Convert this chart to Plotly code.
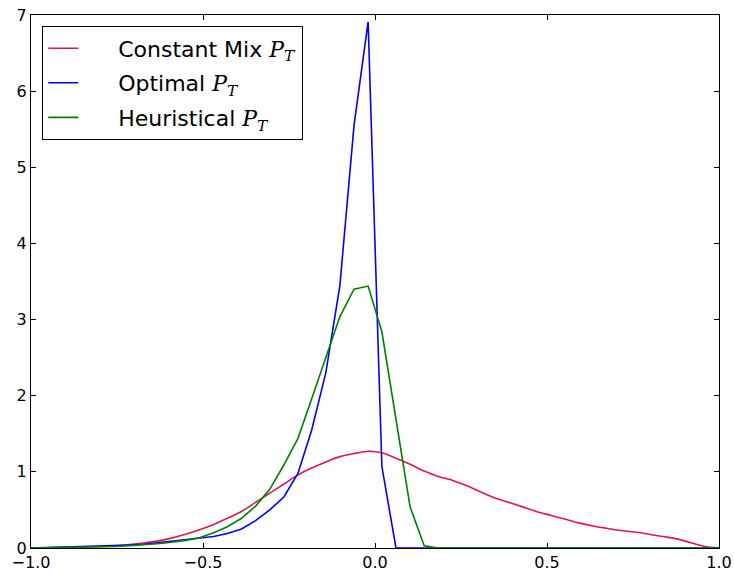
import plotly.graph_objects as go

x_grid = [-1.000, -0.959, -0.918, -0.878, -0.837, -0.796, -0.755, -0.714, -0.673, -0.633,
          -0.592, -0.551, -0.510, -0.469, -0.429, -0.388, -0.347, -0.306, -0.265, -0.224,
          -0.184, -0.143, -0.102, -0.061, -0.020, 0.020, 0.061, 0.102, 0.143, 0.184,
          0.224, 0.265, 0.306, 0.347, 0.388, 0.429, 0.469, 0.510, 0.551, 0.592,
          0.633, 0.673, 0.714, 0.755, 0.796, 0.837, 0.878, 0.918, 0.959, 1.000]

constant_mix = [0.0, 0.003, 0.006, 0.01, 0.015, 0.02, 0.03, 0.045, 0.065, 0.09,
                0.13, 0.18, 0.24, 0.31, 0.39, 0.48, 0.60, 0.72, 0.84, 0.96,
                1.05, 1.13, 1.20, 1.24, 1.27, 1.25, 1.18, 1.10, 1.01, 0.94,
                0.89, 0.82, 0.74, 0.66, 0.60, 0.54, 0.48, 0.43, 0.38, 0.33,
                0.29, 0.26, 0.23, 0.21, 0.18, 0.15, 0.12, 0.07, 0.02, 0.0]

optimal = [0.0, 0.005, 0.01, 0.02, 0.025, 0.03, 0.035, 0.04, 0.05, 0.07,
           0.09, 0.11, 0.135, 0.15, 0.19, 0.25, 0.36, 0.50, 0.67, 0.98,
           1.55, 2.30, 3.45, 5.55, 6.91, 1.07, 0.0, 0.0, 0.0, 0.0,
           0.0, 0.0, 0.0, 0.0, 0.0, 0.0, 0.0, 0.0, 0.0, 0.0,
           0.0, 0.0, 0.0, 0.0, 0.0, 0.0, 0.0, 0.0, 0.0, 0.0]

heuristic = [0.0, 0.002, 0.005, 0.007, 0.01, 0.015, 0.02, 0.03, 0.04, 0.055,
             0.075, 0.10, 0.135, 0.20, 0.28, 0.39, 0.55, 0.77, 1.09, 1.44,
             1.96, 2.51, 3.04, 3.40, 3.44, 2.84, 1.66, 0.54, 0.03, 0.0,
             0.0, 0.0, 0.0, 0.0, 0.0, 0.0, 0.0, 0.0, 0.0, 0.0,
             0.0, 0.0, 0.0, 0.0, 0.0, 0.0, 0.0, 0.0, 0.0, 0.0]

x_ticks = [-1.0, -0.5, 0.0, 0.5, 1.0]
y_ticks = [0, 1, 2, 3, 4, 5, 6, 7]

PT = '<span style="font-family:\'DejaVu Serif\'"><i>P</i><sub><i>T</i></sub></span>'
PAD = "&nbsp;" * 5

series = [
    ("Constant Mix " + PT, constant_mix, "#E0174A", "spline"),
    ("Optimal " + PT, optimal, "#0000FF", "linear"),
    ("Heuristical " + PT, heuristic, "#008000", "linear"),
]

fig = go.Figure()
for i, (name, vals, col, shape) in enumerate(series):
    fig.add_trace(go.Scatter(x=x_grid, y=vals, mode="lines", name=PAD + name,
                             legendgroup=str(i),
                             line=dict(color=col, width=1.6, shape=shape,
                                       smoothing=0.6 if shape == "spline" else None)))

axis_common = dict(showline=True, linecolor="black", linewidth=1.2, mirror="ticks",
                   ticks="inside", ticklen=5, tickcolor="black", showgrid=False,
                   zeroline=False, automargin=False,
                   tickfont=dict(family="DejaVu Sans", size=16, color="black"))

fig.update_xaxes(range=[-1.0, 1.0], tickvals=x_ticks, tickformat=".1f", **axis_common)
fig.update_yaxes(range=[0, 7], tickvals=y_ticks, **axis_common)

fig.update_layout(
    width=734, height=578,
    margin=dict(l=31, r=15, t=15, b=30),
    paper_bgcolor="white", plot_bgcolor="white",
    legend=dict(x=0.016, y=0.979, xanchor="left", yanchor="top",
                bordercolor="black", borderwidth=1.2, bgcolor="white",
                font=dict(family="DejaVu Sans", size=22, color="black"),
                traceorder="grouped", tracegroupgap=3),
)

fig.write_html("out.html",
               config={"displayModeBar": False},
               post_script="document.body.style.margin='0';document.body.style.overflow='hidden';")
